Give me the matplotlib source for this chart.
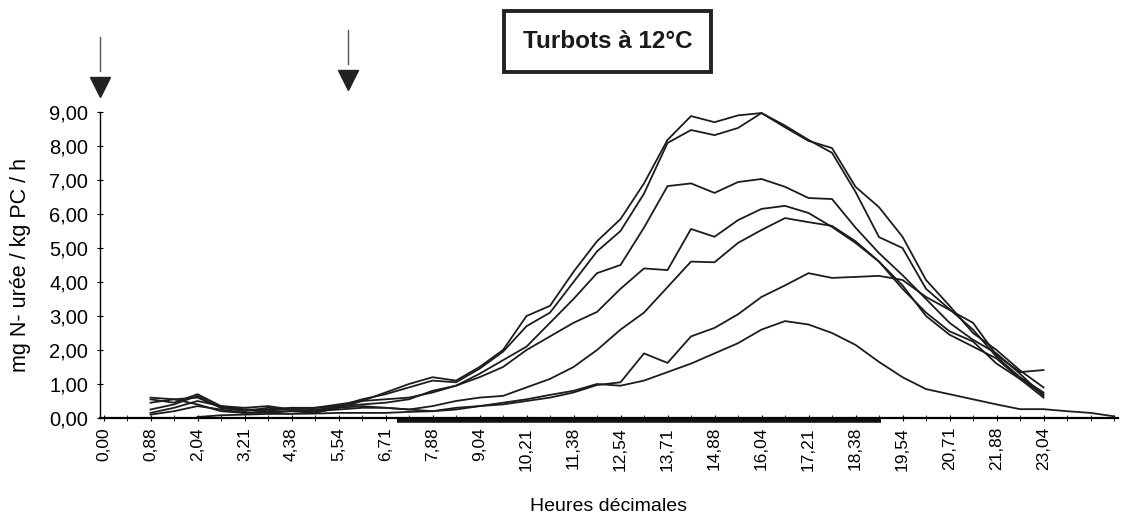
import numpy as np
import matplotlib.pyplot as plt
from matplotlib.patches import Rectangle

plt.rcParams['font.family'] = ['Liberation Sans', 'DejaVu Sans']

# tick labels (one every second category)
hour_labels = ["0,00", "0,88", "2,04", "3,21", "4,38", "5,54", "6,71", "7,88", "9,04",
               "10,21", "11,38", "12,54", "13,71", "14,88", "16,04", "17,21", "18,38",
               "19,54", "20,71", "21,88", "23,04"]
n_cat = 44  # categories 0..43

# series start at category 2 (0,88), last one at category 4
s1 = [0.55, 0.45, 0.70, 0.35, 0.25, 0.25, 0.30, 0.25, 0.30, 0.50, 0.75, 1.00, 1.20, 1.10,
      1.50, 2.00, 3.00, 3.30, 4.30, 5.20, 5.85, 6.90, 8.18, 8.88, 8.70, 8.90, 8.97, 8.60,
      8.18, 7.80, 6.65, 5.32, 5.00, 3.80, 3.20, 2.60, 1.80, 1.20, 0.75]
s2 = [0.45, 0.55, 0.60, 0.30, 0.20, 0.30, 0.25, 0.20, 0.35, 0.55, 0.70, 0.90, 1.10, 1.05,
      1.45, 1.95, 2.70, 3.10, 4.00, 4.90, 5.50, 6.60, 8.09, 8.47, 8.32, 8.53, 8.97, 8.55,
      8.15, 7.94, 6.80, 6.20, 5.33, 4.06, 3.30, 2.50, 2.00, 1.40, 0.90]
s3 = [0.25, 0.40, 0.65, 0.30, 0.25, 0.20, 0.30, 0.30, 0.40, 0.50, 0.55, 0.60, 0.75, 0.95,
      1.30, 1.70, 2.10, 2.80, 3.50, 4.26, 4.50, 5.60, 6.82, 6.90, 6.62, 6.94, 7.03, 6.80,
      6.47, 6.44, 5.60, 4.85, 4.20, 3.50, 2.80, 2.30, 1.90, 1.30, 0.65]
s4 = [0.15, 0.30, 0.50, 0.35, 0.30, 0.35, 0.25, 0.30, 0.35, 0.40, 0.45, 0.55, 0.80, 0.95,
      1.20, 1.50, 2.00, 2.40, 2.80, 3.12, 3.80, 4.40, 4.35, 5.56, 5.33, 5.82, 6.15, 6.24,
      6.03, 5.62, 5.15, 4.60, 3.80, 3.10, 2.55, 2.25, 1.60, 1.15, 0.60]
s5 = [0.10, 0.20, 0.35, 0.25, 0.15, 0.20, 0.20, 0.15, 0.30, 0.35, 0.30, 0.25, 0.35, 0.50,
      0.60, 0.65, 0.90, 1.15, 1.50, 2.00, 2.60, 3.10, 3.85, 4.60, 4.58, 5.15, 5.53, 5.88,
      5.76, 5.65, 5.20, 4.60, 3.90, 3.00, 2.45, 2.10, 1.75, 1.15, 0.70]
s6 = [0.60, 0.55, 0.40, 0.20, 0.15, 0.15, 0.20, 0.20, 0.25, 0.30, 0.30, 0.25, 0.20, 0.30,
      0.35, 0.40, 0.50, 0.60, 0.75, 0.97, 1.05, 1.90, 1.62, 2.40, 2.65, 3.05, 3.56, 3.90,
      4.26, 4.12, 4.15, 4.18, 4.06, 3.56, 3.18, 2.80, 1.85, 1.35, 1.41]
s7 = [0.03, 0.08, 0.10, 0.12, 0.12, 0.13, 0.15, 0.15, 0.15, 0.18, 0.20, 0.25, 0.35, 0.45,
      0.55, 0.68, 0.80, 1.00, 0.95, 1.10, 1.35, 1.60, 1.90, 2.20, 2.60, 2.85, 2.75, 2.50,
      2.15, 1.65, 1.20, 0.85, 0.70, 0.55, 0.40, 0.26, 0.26, 0.20, 0.15, 0.05]
series = [(2, s1), (2, s2), (2, s3), (2, s4), (2, s5), (2, s6), (4, s7)]

# dark period (category positions) and feeding arrows
night = (12.5, 33.1)
feed_pos = [-0.15, 10.4]

fig = plt.figure(figsize=(11.24, 5.23), dpi=100)
ax = fig.add_axes([100/1124, 1 - 418/523, 1018/1124, 306/523])

for start, vals in series:
    x = np.arange(start, start + len(vals))
    ax.plot(x, vals, color='#1c1c1c', lw=1.3)

ax.set_xlim(-0.15, 43.17)
ax.set_ylim(0, 9)
ax.spines['top'].set_visible(False)
ax.spines['right'].set_visible(False)
ax.spines['left'].set_linewidth(1.0)
ax.spines['bottom'].set_linewidth(1.6)

ax.set_yticks(np.arange(0, 10, 1))
ax.set_yticklabels([f"{v:.2f}".replace('.', ',') for v in range(10)], fontsize=14.5)
ax.tick_params(axis='y', direction='inout', length=5, pad=6)

ax.set_xticks(np.arange(0, 2 * len(hour_labels), 2))
ax.set_xticklabels(hour_labels, rotation=90, fontsize=12.5)
ax.set_xticks(np.arange(0, n_cat), minor=True)
ax.tick_params(axis='x', which='both', direction='inout', length=5, pad=4)

ax.set_xlabel("Heures décimales", fontsize=14, labelpad=20)
ax.set_ylabel("mg N- urée / kg PC / h", fontsize=15.5)
ax.yaxis.set_label_coords(-0.068, 0.5)

# thick bar under the axis
ax.plot(night, [-0.07, -0.07], color='#111111', lw=4, solid_capstyle='butt', clip_on=False)

# feeding arrows
for k, xp in enumerate(feed_pos):
    yt = 9.75 + 0.2 * k
    ax.plot([xp, xp], [yt + 1.45, yt + 0.45], color='#555555', lw=1, clip_on=False)
    ax.plot(xp, yt, marker='v', markersize=15, color='#222222', clip_on=False)

# title box
fig.add_artist(Rectangle((504/1124, 1 - 72/523), 207/1124, 61/523, transform=fig.transFigure,
                         fill=False, ec='#222222', lw=2.8))
fig.text(608/1124, 1 - 42/523, "Turbots à 12°C", fontsize=17.5, fontweight='bold',
         ha='center', va='center', color='#1a1a1a')

fig.savefig("out.png", dpi=100)
